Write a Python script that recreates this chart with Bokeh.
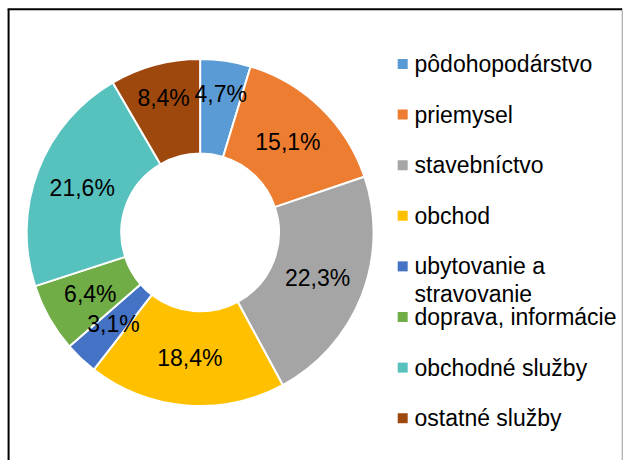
import math
from bokeh.plotting import figure
from bokeh.models import Range1d, ColumnDataSource
from bokeh.core.properties import value
from bokeh.embed import file_html
from bokeh.resources import INLINE

categories = ["pôdohopodárstvo", "priemysel", "stavebníctvo", "obchod",
              "ubytovanie a\nstravovanie", "doprava, informácie",
              "obchodné služby", "ostatné služby"]
shares = [4.7, 15.1, 22.3, 18.4, 3.1, 6.4, 21.6, 8.4]
labels = ["4,7%", "15,1%", "22,3%", "18,4%", "3,1%", "6,4%", "21,6%", "8,4%"]
colors = ["#5B9BD5", "#ED7D31", "#A5A5A5", "#FFC000", "#4472C4", "#70AD47",
          "#57C1BE", "#9E480E"]

# canvas in page pixels of the reference (632 x 468), drawn into 623 x 460
RW, RH = 632, 468
W, H = 623, 460
FONT = "Liberation Sans"
FS = "23px"

def X(px):
    return px

def Y(py):
    return RH - py

p = figure(width=W, height=H, output_backend="svg", toolbar_location=None,
           x_range=Range1d(0, RW), y_range=Range1d(0, RH), min_border=0)
p.axis.visible = False
p.grid.visible = False
p.outline_line_color = None
p.background_fill_color = "white"

cx, cy = X(202.5), Y(236)
r_out, r_in = 176, 80

total = sum(shares)
starts, ends, mids = [], [], []
acc = 0.0
for s in shares:
    a0 = acc / total
    acc += s
    a1 = acc / total
    starts.append(math.pi / 2 - 2 * math.pi * a0)
    ends.append(math.pi / 2 - 2 * math.pi * a1)
    mids.append(math.pi / 2 - 2 * math.pi * (a0 + a1) / 2)

src = ColumnDataSource(dict(start=starts, end=ends, color=colors))
p.annular_wedge(x=cx, y=cy, inner_radius=r_in, outer_radius=r_out,
                start_angle="start", end_angle="end", direction="clock",
                fill_color="color", line_color="white", line_width=2,
                source=src)

# data labels (slices at the very top are pushed outward, as Excel does)
r_lab = (r_in + r_out) / 2
lx, ly = [], []
for m in mids:
    rr = r_lab
    if math.sin(m) > 0.95:
        rr = r_lab + 14
    lx.append(cx + rr * math.cos(m))
    ly.append(cy + rr * math.sin(m))
p.text(x=lx, y=ly, text=labels, text_font=value(FONT), text_font_size=FS,
       text_align="center", text_baseline="middle", text_color="black")

# legend
sq_x = X(408)
tx = X(420)
lyy = [Y(64.5 + i * 51.5) for i in range(len(categories))]
p.scatter(x=[sq_x] * len(categories), y=lyy, marker="square", size=10,
          fill_color=colors, line_color=None)
txs, tys, tts = [], [], []
for c, yy in zip(categories, lyy):
    for k, line in enumerate(c.split("\n")):
        txs.append(tx)
        tys.append(yy - 28 * k)
        tts.append(line)
p.text(x=txs, y=tys, text=tts, text_font=value(FONT), text_font_size=FS,
       text_align="left", text_baseline="middle", text_color="black")

# chart frame
p.segment(x0=[X(8.2)], y0=[Y(9)], x1=[X(8.2)], y1=[0], line_color="black",
          line_width=2)
p.segment(x0=[X(7.2)], y0=[Y(9)], x1=[X(630.7)], y1=[Y(9)], line_color="black",
          line_width=2)
p.segment(x0=[X(630.7)], y0=[Y(10)], x1=[X(630.7)], y1=[0],
          line_color="#999999", line_width=1)

open("out.html", "w").write(file_html(p, INLINE))
